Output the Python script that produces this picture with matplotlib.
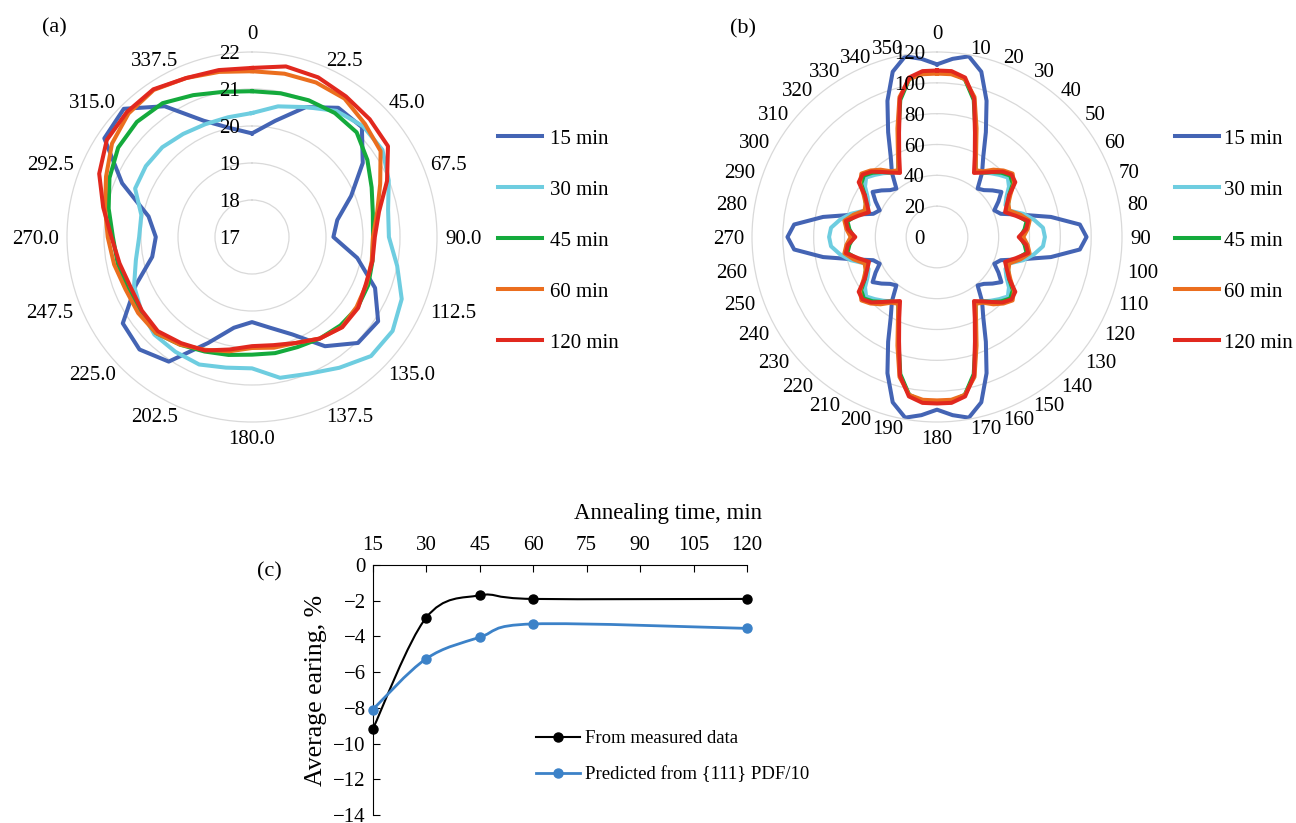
import numpy as np
import matplotlib
matplotlib.use("Agg")
import matplotlib.pyplot as plt
from matplotlib.path import Path
from matplotlib.patches import PathPatch
from matplotlib.lines import Line2D

plt.rcParams['font.family'] = ['Liberation Serif', 'DejaVu Serif']

series_labels = ['15 min', '30 min', '45 min', '60 min', '120 min']
series_colors = ['#4464b4', '#6ecde0', '#14aa3c', '#eb6e1e', '#e1281e']

# panel (a): values every 11.25 deg, clockwise from 0
a_step = 11.25
a_15 = [19.8, 20.2, 20.8, 21.2, 21.2, 20.6, 19.9, 19.35, 19.2, 19.9, 20.6, 21.1,
        21.05, 20.55, 19.85, 19.5, 19.3, 19.5, 20.1, 21.05, 21.3, 21.2, 20.4, 19.75,
        19.6, 19.85, 20.8, 21.8, 21.9, 21.25, 20.4, 20.0]
a_30 = [20.35, 20.6, 20.8, 21.1, 21.24, 21.24, 21.0, 20.75, 20.7, 21.0, 21.38, 21.57,
        21.55, 21.25, 21.0, 20.88, 20.55, 20.6, 20.73, 20.73, 20.73, 20.6, 20.45, 20.2,
        20.05, 20.05, 20.42, 20.45, 20.43, 20.35, 20.3, 20.3]
a_45 = [20.94, 20.96, 21.0, 21.03, 21.0, 20.75, 20.5, 20.33, 20.27, 20.32, 20.4, 20.43,
        20.38, 20.3, 20.22, 20.2, 20.18, 20.25, 20.35, 20.5, 20.67, 20.65, 20.65, 20.7,
        20.76, 20.95, 21.17, 21.35, 21.4, 21.35, 21.15, 21.0]
a_60 = [21.48, 21.5, 21.52, 21.5, 21.32, 21.18, 20.75, 20.45, 20.27, 20.3, 20.35, 20.4,
        20.44, 20.3, 20.1, 20.05, 20.0, 20.15, 20.3, 20.5, 20.67, 20.7, 20.7, 20.8,
        20.9, 21.05, 21.27, 21.55, 21.72, 21.78, 21.65, 21.55]
a_120 = [21.57, 21.7, 21.67, 21.57, 21.5, 21.42, 20.95, 20.5, 20.32, 20.32, 20.33, 20.45,
         20.45, 20.3, 20.1, 19.98, 19.95, 20.1, 20.32, 20.45, 20.6, 20.58, 20.55, 20.65,
         20.8, 21.1, 21.47, 21.72, 21.78, 21.8, 21.65, 21.6]
a_rticks = [17, 18, 19, 20, 21, 22]
a_tick_labels = ['0', '22.5', '45.0', '67.5', '90.0', '112.5', '135.0', '137.5',
                 '180.0', '202.5', '225.0', '247.5', '270.0', '292.5', '315.0', '337.5']

# panel (b): values every 5 deg
b_step = 5
b_15 = [112, 116, 119, 111, 94, 75, 60, 51, 41, 43, 47, 51, 46, 41, 44, 56, 75, 93, 97,
        93, 75, 56, 44, 41, 46, 51, 47, 43, 41, 51, 60, 75, 94, 111, 119, 116, 112,
        116, 119, 111, 94, 75, 60, 51, 41, 43, 47, 51, 46, 41, 44, 56, 75, 93, 97,
        93, 75, 56, 44, 41, 46, 51, 47, 43, 41, 51, 60, 75, 94, 111, 119, 116]
b_30 = [107, 107, 104, 93, 74, 59, 50, 51, 54, 57, 60, 57, 52, 49, 50, 58, 64, 69, 70,
        69, 64, 58, 50, 49, 52, 57, 60, 57, 54, 51, 50, 59, 74, 93, 104, 107, 107,
        107, 104, 93, 74, 59, 50, 51, 54, 57, 60, 57, 52, 49, 50, 58, 64, 69, 70,
        69, 64, 58, 50, 49, 52, 57, 60, 57, 54, 51, 50, 59, 74, 93, 104, 107]
b_45 = [107, 107, 104, 92, 73, 59, 50, 51, 55, 59, 62, 60, 54, 51, 49, 54, 59, 57, 54,
        57, 59, 54, 49, 51, 54, 60, 62, 59, 55, 51, 50, 59, 73, 92, 104, 107, 107,
        107, 104, 92, 73, 59, 50, 51, 55, 59, 62, 60, 54, 51, 49, 54, 59, 57, 54,
        57, 59, 54, 49, 51, 54, 60, 62, 59, 55, 51, 50, 59, 73, 92, 104, 107]
b_60 = [106, 106, 104, 94, 75, 60, 50, 52, 57, 61, 64, 61, 55, 51, 50, 56, 61, 59, 56,
        59, 61, 56, 50, 51, 55, 61, 64, 61, 57, 52, 50, 60, 75, 94, 104, 106, 106,
        106, 104, 94, 75, 60, 50, 52, 57, 61, 64, 61, 55, 51, 50, 56, 61, 59, 56,
        59, 61, 56, 50, 51, 55, 61, 64, 61, 57, 52, 50, 60, 75, 94, 104, 106]
b_120 = [108, 108, 105, 93, 72, 58, 48, 51, 55, 60, 63, 62, 54, 50, 47, 53, 60, 58, 53,
         58, 60, 53, 47, 50, 54, 62, 63, 60, 55, 51, 48, 58, 72, 93, 105, 108, 108,
         108, 105, 93, 72, 58, 48, 51, 55, 60, 63, 62, 54, 50, 47, 53, 60, 58, 53,
         58, 60, 53, 47, 50, 54, 62, 63, 60, 55, 51, 48, 58, 72, 93, 105, 108]
b_rticks = [0, 20, 40, 60, 80, 100, 120]
b_tick_labels = [str(v) for v in range(0, 360, 10)]

# panel (c)
c_time = [15, 30, 45, 60, 120]
c_measured = [-9.2, -2.95, -1.7, -1.9, -1.9]
c_predicted = [-8.1, -5.25, -4.05, -3.3, -3.55]
c_xticks = [15, 30, 45, 60, 75, 90, 105, 120]
c_yticks = [-14, -12, -10, -8, -6, -4, -2, 0]

fig = plt.figure(figsize=(12.96, 8.23), dpi=100)
W, H = 1296.0, 823.0
fs = 15


def radar(cx, cy, step, series, rticks, tick_labels):
    R = 185.0
    ax = fig.add_axes([(cx - R) / W, 1 - (cy + R) / H, 2 * R / W, 2 * R / H],
                      projection='polar')
    ax.set_theta_zero_location('N')
    ax.set_theta_direction(-1)
    n = len(series[0])
    theta = np.deg2rad(np.arange(n + 1) * step)
    for vals, col, lab in zip(series, series_colors, series_labels):
        ax.plot(theta, list(vals) + [vals[0]], color=col, lw=2.9, label=lab,
                solid_joinstyle='round')
    r0, r1 = rticks[0], rticks[-1]
    ax.set_ylim(r0, r1)
    ax.set_yticks(rticks[1:-1])
    ax.set_yticklabels([])
    ax.set_xticks([])
    ax.yaxis.grid(True, color='#d9d9d9', lw=0.9)
    ax.spines['polar'].set_color('#d9d9d9')
    ax.spines['polar'].set_linewidth(0.9)
    nudge = 2.5 / (2 * R)  # visual centring of digits
    for v in rticks:
        ax.text(0.5 - 12 / (2 * R), 0.5 + 0.5 * (v - r0) / (r1 - r0) - nudge, str(v),
                transform=ax.transAxes, ha='right', va='center', fontsize=fs)
    d = 193.0 / (2 * R)
    for i, t in enumerate(tick_labels):
        ang = np.deg2rad(i * 360.0 / len(tick_labels))
        s, c = np.sin(ang), np.cos(ang)
        dy = 0
        if abs(s) < 0.05:
            ha = 'center'
            va = 'bottom' if c > 0 else 'top'
        else:
            ha = 'left' if s > 0 else 'right'
            va = 'center'
            dy = -nudge
        ax.text(0.5 + d * s, 0.5 + d * c + dy, t, transform=ax.transAxes,
                ha=ha, va=va, fontsize=fs)
    return ax


ax_a = radar(252, 237, a_step, [a_15, a_30, a_45, a_60, a_120], a_rticks, a_tick_labels)
ax_b = radar(937, 237, b_step, [b_15, b_30, b_45, b_60, b_120], b_rticks, b_tick_labels)

fig.legend(handles=ax_a.get_lines(), loc='upper left', bbox_to_anchor=(498 / W, 1 - 129 / H),
           frameon=False, fontsize=fs, handlelength=2.1, handletextpad=0.38,
           labelspacing=1.51, borderpad=0, borderaxespad=0)
fig.legend(handles=ax_b.get_lines(), loc='upper left', bbox_to_anchor=(1175 / W, 1 - 129 / H),
           frameon=False, fontsize=fs, handlelength=2.1, handletextpad=0.24,
           labelspacing=1.51, borderpad=0, borderaxespad=0)


# smoothed line like the spreadsheet "smooth line" option
def smooth_path(x, y):
    pts = np.column_stack([x, y]).astype(float)
    verts = [pts[0]]
    codes = [Path.MOVETO]
    for i in range(len(pts) - 1):
        p0 = pts[max(i - 1, 0)]
        p1 = pts[i]
        p2 = pts[i + 1]
        p3 = pts[min(i + 2, len(pts) - 1)]
        verts += [p1 + (p2 - p0) / 6, p2 - (p3 - p1) / 6, p2]
        codes += [Path.CURVE4] * 3
    return Path(verts, codes)


ax_c = fig.add_axes([372.7 / W, 1 - 815 / H, 374.3 / W, 250 / H])
black, blue = '#000000', '#3c82c8'
for yv, col, lw in [(c_measured, black, 1.5), (c_predicted, blue, 2.0)]:
    ax_c.add_patch(PathPatch(smooth_path(c_time, yv), fill=False, edgecolor=col,
                             lw=lw, clip_on=False))
    ax_c.plot(c_time, yv, 'o', color=col, ms=6.5, clip_on=False, zorder=3)
ax_c.set_xlim(15, 120)
ax_c.set_ylim(-14, 0)
ax_c.set_xticks(c_xticks)
ax_c.set_yticks(c_yticks)
ax_c.xaxis.tick_top()
ax_c.spines['bottom'].set_visible(False)
ax_c.spines['right'].set_visible(False)
ax_c.tick_params(axis='both', direction='in', length=5, labelsize=15)
ax_c.tick_params(axis='x', pad=7)
ax_c.tick_params(axis='y', pad=5)
ax_c.text(1.04, 1.208, 'Annealing time, min', transform=ax_c.transAxes,
          ha='right', va='center', fontsize=16.5)
ax_c.text(-0.152, 0.5, 'Average earing, %', transform=ax_c.transAxes,
          rotation=90, ha='center', va='center', fontsize=18.5)
c_handles = [Line2D([], [], color=black, lw=1.5, marker='o', ms=6.5),
             Line2D([], [], color=blue, lw=2.0, marker='o', ms=6.5)]
fig.legend(handles=c_handles, labels=['From measured data', 'Predicted from {111} PDF/10'],
           loc='upper left', bbox_to_anchor=(536 / W, 1 - 730 / H), frameon=False,
           fontsize=13.5, handlelength=2.35, handletextpad=0.28, labelspacing=1.02,
           borderpad=0, borderaxespad=0)

fig.text(42 / W, 1 - 27.5 / H, '(a)', ha='left', va='center', fontsize=16)
fig.text(730 / W, 1 - 29 / H, '(b)', ha='left', va='center', fontsize=16)
fig.text(257 / W, 1 - 571.5 / H, '(c)', ha='left', va='center', fontsize=16)

fig.savefig('out.png', dpi=100)
